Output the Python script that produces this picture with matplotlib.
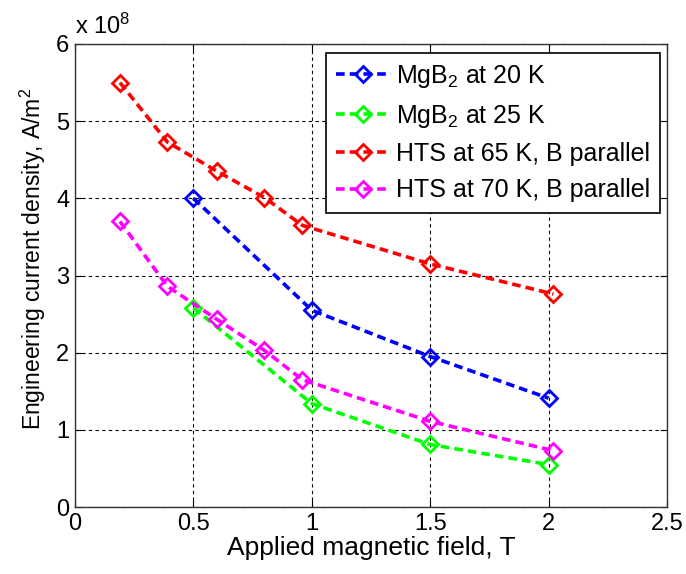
import matplotlib
matplotlib.use("Agg")
from matplotlib import pyplot as plt

plt.rcParams['font.family'] = ['Liberation Sans', 'DejaVu Sans']
plt.rcParams['mathtext.fontset'] = 'custom'
plt.rcParams['mathtext.rm'] = 'Liberation Sans'
plt.rcParams['mathtext.it'] = 'Liberation Sans'

# valores en unidades de 1e8 A/m^2
b_mgb2 = [0.5, 1.0, 1.5, 2.0]
mgb2_20k = [4.0, 2.55, 1.95, 1.41]
mgb2_25k = [2.58, 1.34, 0.81, 0.55]

b_hts = [0.19, 0.39, 0.60, 0.80, 0.96, 1.5, 2.02]
hts_65k = [5.50, 4.73, 4.35, 4.01, 3.65, 3.15, 2.76]
hts_70k = [3.70, 2.86, 2.43, 2.03, 1.65, 1.11, 0.73]

etiquetas = ['MgB$_2$ at 20 K', 'MgB$_2$ at 25 K',
             'HTS at 65 K, B parallel', 'HTS at 70 K, B parallel']

fig = plt.figure(figsize=(6.86, 5.74), dpi=100)
ax = fig.add_axes([75/686, 1-507/574, (667-75)/686, (507-44)/574])

estilo = dict(linestyle='--', linewidth=2.6, marker='D', markersize=8,
              markerfacecolor='none', markeredgewidth=2, dashes=(2.4, 1.4))
ax.plot(b_mgb2, mgb2_20k, color='#0000ff', label=etiquetas[0], **estilo)
ax.plot(b_mgb2, mgb2_25k, color='#00ff00', label=etiquetas[1], **estilo)
ax.plot(b_hts, hts_65k, color='#ff0000', label=etiquetas[2], **estilo)
ax.plot(b_hts, hts_70k, color='#ff00ff', label=etiquetas[3], **estilo)

ax.set_xlim(0, 2.5)
ax.set_ylim(0, 6)
ax.set_xticks([0, 0.5, 1, 1.5, 2, 2.5])
ax.set_xticklabels(['0', '0.5', '1', '1.5', '2', '2.5'])
ax.set_yticks([0, 1, 2, 3, 4, 5, 6])
ax.tick_params(direction='in', top=True, right=True, labelsize=17, length=5, pad=4)
ax.grid(True, color='black', linestyle=(0, (3, 3)), linewidth=0.8)
for s in ax.spines.values():
    s.set_linewidth(1)
    s.set_color('#333333')

ax.set_xlabel('Applied magnetic field, T', fontsize=19, labelpad=1)
ax.set_ylabel('Engineering current density, A/m$^2$', fontsize=16.5)
ax.yaxis.set_label_coords(-0.045, 0.535)
ax.text(0.0, 1.012, 'x 10$^8$', transform=ax.transAxes, fontsize=17,
        ha='left', va='bottom')

leg = ax.legend(loc='upper right', bbox_to_anchor=(585/592, 1-9/463),
                borderaxespad=0, fontsize=18, fancybox=False,
                framealpha=1, edgecolor='black', handlelength=2.2,
                handletextpad=0.2, borderpad=0.4, labelspacing=0.5)
leg.get_frame().set_linewidth(1.2)

fig.savefig('out.png', dpi=100)
